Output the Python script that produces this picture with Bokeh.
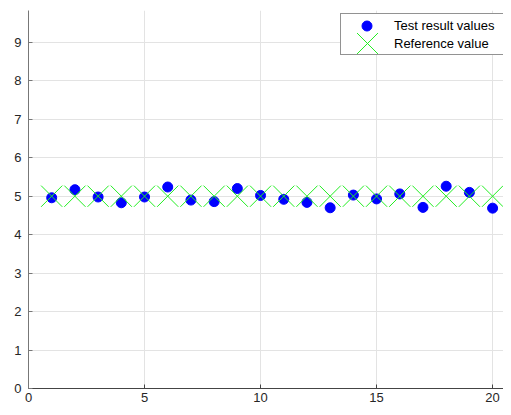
from bokeh.plotting import figure
from bokeh.models import Legend, LegendItem, Range1d, FixedTicker
from bokeh.embed import file_html
from bokeh.resources import INLINE

# ---- data ----
sample_index = [1, 2, 3, 4, 5, 6, 7, 8, 9, 10, 11, 12, 13, 14, 15, 16, 17, 18, 19, 20]
test_values = [4.96, 5.17, 4.98, 4.83, 4.98, 5.24, 4.90, 4.86, 5.20, 5.02,
               4.92, 4.84, 4.70, 5.03, 4.93, 5.06, 4.71, 5.26, 5.10, 4.69]
reference_values = [5.0, 5.0, 5.0, 5.0, 5.0, 5.0, 5.0, 5.0, 5.0, 5.0,
                    5.0, 5.0, 5.0, 5.0, 5.0, 5.0, 5.0, 5.0, 5.0, 5.0]
x_ticks = [0, 5, 10, 15, 20]
y_ticks = [0, 1, 2, 3, 4, 5, 6, 7, 8, 9]

FONT = "Liberation Sans"
TXT = "#262626"

p = figure(width=503, height=407, output_backend="svg", toolbar_location=None,
           x_range=Range1d(0, 20.47), y_range=Range1d(0, 9.83),
           min_border_left=28, min_border_right=0, min_border_top=10, min_border_bottom=19)
p.outline_line_color = None
p.background_fill_color = "white"
p.border_fill_color = "white"

# grid
p.xgrid.ticker = FixedTicker(ticks=x_ticks)
p.ygrid.ticker = FixedTicker(ticks=y_ticks)
p.xgrid.grid_line_color = "#e3e3e3"
p.ygrid.grid_line_color = "#e3e3e3"

# axes
p.xaxis.ticker = FixedTicker(ticks=x_ticks)
p.yaxis.ticker = FixedTicker(ticks=y_ticks)
for ax, col in ((p.xaxis, "#444444"), (p.yaxis, "#777777")):
    ax.axis_line_color = col
    ax.major_tick_line_color = col
    ax.major_tick_in = 4
    ax.major_tick_out = 0
    ax.minor_tick_line_color = None
    ax.major_label_text_font = FONT
    ax.major_label_text_font_size = "13px"
    ax.major_label_text_color = TXT
p.xaxis.major_label_standoff = 4
p.yaxis.major_label_standoff = 7

# marks
dots = p.scatter(sample_index, test_values, marker="circle", size=10,
                 fill_color="#0000ff", line_color="#0000ff")
crosses = p.scatter(sample_index, reference_values, marker="x", size=30,
                    line_color="#22ee22", line_width=1)

# legend box with labels
leg_main = Legend(items=[LegendItem(label="Test result values", renderers=[]),
                         LegendItem(label="Reference value", renderers=[])],
                  location=(312, 333), padding=2, margin=0, spacing=0,
                  glyph_width=50, glyph_height=18, label_height=18, label_width=108,
                  label_standoff=1,
                  border_line_color=TXT, border_line_width=1,
                  background_fill_color="white", background_fill_alpha=1,
                  label_text_font=FONT, label_text_font_size="13px", label_text_color="black")
p.add_layout(leg_main)

# legend glyphs (sized like the reference)
leg_dot = Legend(items=[LegendItem(label=" ", renderers=[dots])],
                 location=(326, 350), padding=0, margin=0, spacing=0,
                 glyph_width=25, glyph_height=25, label_height=1, label_standoff=0,
                 label_text_font_size="1px",
                 border_line_color=None, background_fill_alpha=0)
leg_x = Legend(items=[LegendItem(label=" ", renderers=[crosses])],
               location=(302, 308), padding=0, margin=0, spacing=0,
               glyph_width=74, glyph_height=74, label_height=1, label_standoff=0,
               label_text_font_size="1px",
               border_line_color=None, background_fill_alpha=0)
p.add_layout(leg_dot)
p.add_layout(leg_x)

open("out.html", "w").write(file_html(p, INLINE))
